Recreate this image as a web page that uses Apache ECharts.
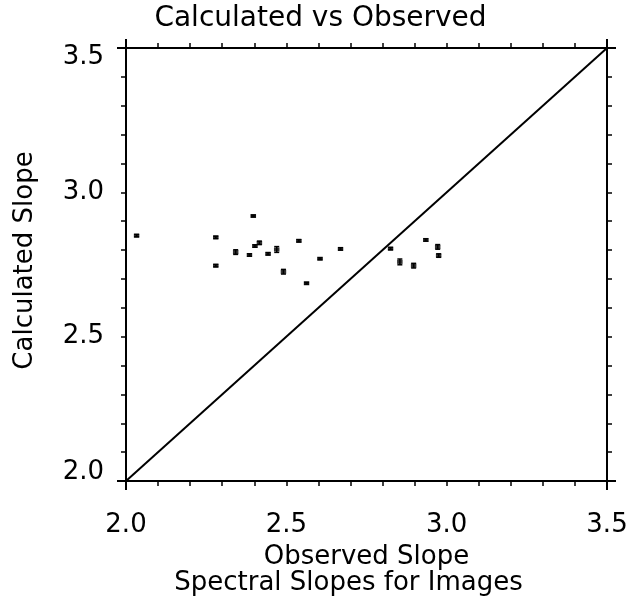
<!DOCTYPE html>
<html>
<head>
<meta charset="utf-8">
<script src="https://cdn.jsdelivr.net/npm/echarts@6/dist/echarts.min.js"></script>
<style>
html,body{margin:0;padding:0;background:#fff;}
#chart{width:641px;height:601px;}
</style>
</head>
<body>
<div id="chart"></div>
<script>
// ---- data ----
var obsSlope  = [2.033, 2.280, 2.280, 2.342, 2.385, 2.397, 2.402, 2.416, 2.443, 2.470, 2.491, 2.539, 2.563, 2.605, 2.669, 2.825, 2.854, 2.897, 2.935, 2.972, 2.975];
var calcSlope = [2.850, 2.844, 2.746, 2.793, 2.783, 2.918, 2.814, 2.825, 2.787, 2.802, 2.725, 2.832, 2.685, 2.770, 2.804, 2.805, 2.759, 2.746, 2.835, 2.811, 2.781];
var calcErr   = [0.004, 0.004, 0.004, 0.008, 0.004, 0.003, 0.004, 0.006, 0.004, 0.010, 0.008, 0.004, 0.003, 0.003, 0.004, 0.004, 0.010, 0.008, 0.004, 0.008, 0.006];
var identityLine = [[2.0, 2.0], [3.5, 3.5]];
var axisMin = 2.0, axisMax = 3.5;
var titleText = 'Calculated vs Observed';
var xName1 = 'Observed Slope';
var xName2 = 'Spectral Slopes for Images';
var yName = 'Calculated Slope';

var FONT = 'DejaVu Sans';
var chart = echarts.init(document.getElementById('chart'), null, {renderer: 'canvas'});

var pts = obsSlope.map(function (x, i) { return [x, calcSlope[i]]; });
var errPts = obsSlope.map(function (x, i) { return [x, calcSlope[i], calcErr[i]]; });

function fmt(v) {
  if (Math.abs(v * 2 - Math.round(v * 2)) > 1e-6) return '';
  return v.toFixed(1);
}
function yFmt(v) {
  var s = fmt(v);
  if (s === '3.5') return '{top|' + s + '}';
  if (s === '2.0') return '{bot|' + s + '}';
  return s;
}

var axisCommon = {
  type: 'value', min: axisMin, max: axisMax, interval: 0.5,
  axisLine: {show: true, onZero: false, lineStyle: {color: '#000', width: 2}},
  axisTick: {show: true, inside: false, length: 5, lineStyle: {color: '#000', width: 1.5}},
  minorTick: {show: true, splitNumber: 5, length: 5, lineStyle: {color: '#000', width: 1.5}},
  splitLine: {show: false}
};

var option = {
  backgroundColor: '#fff',
  animation: false,
  grid: {left: 126, right: 34, top: 48, bottom: 120, containLabel: false},
  title: {
    text: titleText, left: 'center', top: 0,
    textStyle: {fontFamily: FONT, fontSize: 28, fontWeight: 'normal', color: '#000'}
  },
  xAxis: [
    Object.assign({}, axisCommon, {
      position: 'bottom',
      axisLabel: {show: true, margin: 31, formatter: fmt, fontFamily: FONT, fontSize: 26, color: '#000'}
    }),
    Object.assign({}, axisCommon, {position: 'top', axisLabel: {show: false}})
  ],
  yAxis: [
    Object.assign({}, axisCommon, {
      position: 'left',
      axisLabel: {
        show: true, margin: 22, formatter: yFmt, fontFamily: FONT, fontSize: 26, color: '#000',
        rich: {
          top: {fontFamily: FONT, fontSize: 26, color: '#000', padding: [18, 0, 0, 0]},
          bot: {fontFamily: FONT, fontSize: 26, color: '#000', padding: [0, 0, 18, 0]}
        }
      }
    }),
    Object.assign({}, axisCommon, {position: 'right', axisLabel: {show: false}})
  ],
  series: [
    {
      type: 'line', data: identityLine, symbol: 'none', silent: true,
      lineStyle: {color: '#000', width: 2}
    },
    {
      type: 'custom', data: errPts, silent: true,
      renderItem: function (params, api) {
        var x = api.value(0), y = api.value(1), e = api.value(2);
        var p1 = api.coord([x, y + e]);
        var p2 = api.coord([x, y - e]);
        var hw = 2.5;
        var st = {stroke: '#000', lineWidth: 1.5};
        return {
          type: 'group',
          children: [
            {type: 'line', shape: {x1: p1[0], y1: p1[1], x2: p2[0], y2: p2[1]}, style: st},
            {type: 'line', shape: {x1: p1[0] - hw, y1: p1[1], x2: p1[0] + hw, y2: p1[1]}, style: st},
            {type: 'line', shape: {x1: p2[0] - hw, y1: p2[1], x2: p2[0] + hw, y2: p2[1]}, style: st}
          ]
        };
      }
    },
    {
      type: 'scatter', data: pts, symbol: 'rect', symbolSize: [5.5, 4],
      itemStyle: {color: '#000'}
    }
  ]
};
chart.setOption(option);

// axis-name texts and corner extensions placed relative to the grid
var c0 = chart.convertToPixel({xAxisIndex: 0, yAxisIndex: 0}, [axisMin, axisMin]);
var c1 = chart.convertToPixel({xAxisIndex: 0, yAxisIndex: 0}, [axisMax, axisMax]);
var midX = (c0[0] + c1[0]) / 2, midY = (c0[1] + c1[1]) / 2;
var ext = 9;
var ls = {stroke: '#000', lineWidth: 2};
chart.setOption({
  graphic: [
    {
      type: 'text', x: midX, y: c0[1] + 76, z: 10,
      style: {text: xName1, fontFamily: FONT, fontSize: 26, fill: '#000', align: 'center', verticalAlign: 'middle'}
    },
    {
      type: 'text', x: midX - 18, y: c0[1] + 102, z: 10,
      style: {text: xName2, fontFamily: FONT, fontSize: 26, fill: '#000', align: 'center', verticalAlign: 'middle'}
    },
    {
      type: 'text', x: 25, y: midY - 4, rotation: Math.PI / 2, z: 10,
      style: {text: yName, fontFamily: FONT, fontSize: 26, fill: '#000', align: 'center', verticalAlign: 'middle'}
    },
    {type: 'line', shape: {x1: c0[0] - ext, y1: c0[1], x2: c1[0] + ext, y2: c0[1]}, style: ls, z: 10},
    {type: 'line', shape: {x1: c0[0] - ext, y1: c1[1], x2: c1[0] + ext, y2: c1[1]}, style: ls, z: 10},
    {type: 'line', shape: {x1: c0[0], y1: c0[1] + ext, x2: c0[0], y2: c1[1] - ext}, style: ls, z: 10},
    {type: 'line', shape: {x1: c1[0], y1: c0[1] + ext, x2: c1[0], y2: c1[1] - ext}, style: ls, z: 10}
  ]
}, {replaceMerge: ['graphic']});
</script>
</body>
</html>
